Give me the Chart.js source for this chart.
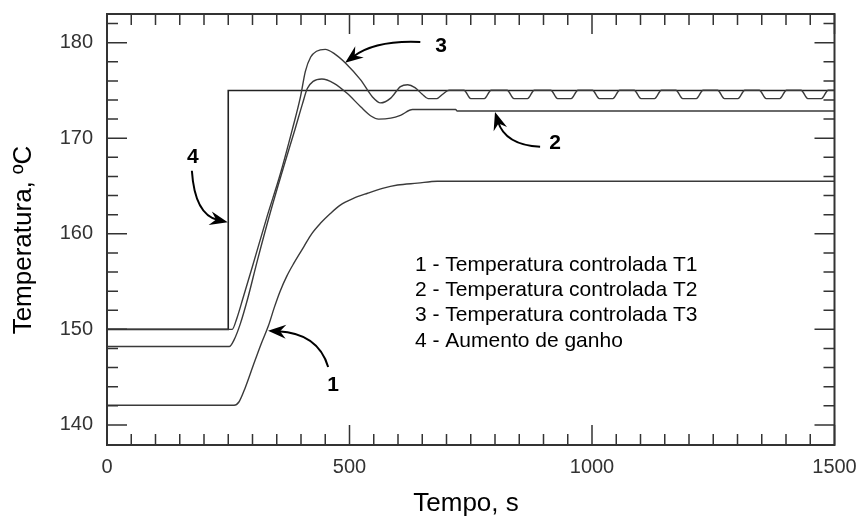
<!DOCTYPE html>
<html>
<head>
<meta charset="utf-8">
<script src="https://cdn.jsdelivr.net/npm/chart.js@4.4.1/dist/chart.umd.min.js"></script>
<style>
  html, body { margin: 0; padding: 0; background: #fff; }
  canvas { display: block; }
</style>
</head>
<body>
<canvas id="chart" width="857" height="521"></canvas>
<script>
var FONT = '"Liberation Sans", Arial, Helvetica, sans-serif';

// 1 - Temperatura controlada T1
var t1Time = [0, 262, 272, 285, 302, 318, 333, 345, 357, 371, 385, 406, 422, 440, 460, 481, 508, 537, 568, 599, 640, 681, 1500];
var t1Temp = [142.06, 142.06, 142.4, 143.9, 146.3, 148.5, 150.4, 152.3, 154.0, 155.6, 156.9, 158.66, 160.0, 161.1, 162.1, 163.0, 163.7, 164.24, 164.75, 165.1, 165.3, 165.5, 165.5];

// 2 - Temperatura controlada T2
var t2Time = [0, 252, 262, 275, 290, 310, 336, 363, 388, 403, 413, 425, 443, 468, 495, 523, 545, 560, 585, 605, 630, 719, 722, 1500];
var t2Temp = [148.2, 148.2, 148.9, 150.6, 153.2, 157.2, 162.1, 166.8, 171.0, 173.6, 175.2, 175.95, 176.2, 175.75, 174.7, 173.3, 172.3, 172.0, 172.1, 172.4, 173.0, 173.0, 172.85, 172.85];

// 3 - Temperatura controlada T3
var t3Time = [0, 258, 268, 280, 300, 330, 357, 382, 399, 409, 420, 432, 450, 470, 492, 523, 547, 564, 585, 605, 620, 635, 650, 662, 680, 692,
  705, 736, 750, 778, 792, 825, 839, 867, 881, 915, 929, 957, 971, 1001, 1015, 1043, 1057, 1087, 1101, 1129, 1143,
  1173, 1187, 1215, 1229, 1259, 1273, 1301, 1315, 1345, 1359, 1387, 1401, 1431, 1445, 1473, 1487, 1500];
var t3Temp = [150, 150, 151.2, 153.2, 156.6, 161.8, 166.2, 170.9, 174.35, 177.0, 178.5, 179.1, 179.3, 178.8, 177.85, 176.1, 174.35, 173.7, 174.2, 175.4, 175.6, 175.3, 174.6, 174.15, 174.15, 174.6,
  175.02, 175.02, 174.15, 174.15, 175.02, 175.02, 174.15, 174.15, 175.02, 175.02, 174.15, 174.15, 175.02, 175.02, 174.15, 174.15, 175.02, 175.02, 174.15, 174.15, 175.02,
  175.02, 174.15, 174.15, 175.02, 175.02, 174.15, 174.15, 175.02, 175.02, 174.15, 174.15, 175.02, 175.02, 174.15, 174.15, 175.02, 175.02];

// 4 - Aumento de ganho
var t4Time = [0, 250, 250, 1500];
var t4Temp = [150, 150, 175, 175];

var xTicks = [0, 500, 1000, 1500];
var yTicks = [140, 150, 160, 170, 180];

var legendLines = [
  '1 - Temperatura controlada T1',
  '2 - Temperatura controlada T2',
  '3 - Temperatura controlada T3',
  '4 - Aumento de ganho'
];

// numbered arrows, in data units: label, start, control, tip
var arrows = [
  { text: '4', label: [177, 168.0], start: [175, 166.6], ctrl: [181, 162.0], tip: [249, 161.2] },
  { text: '3', label: [689, 179.65], start: [646, 180.07], ctrl: [553, 180.28], tip: [491, 177.9] },
  { text: '2', label: [924, 169.5], start: [893, 169.1], ctrl: [821, 169.3], tip: [800, 172.75] },
  { text: '1', label: [466, 144.2], start: [456, 146.07], ctrl: [435, 149.6], tip: [332, 149.85] }
];

function toPoints(xs, ys) {
  return xs.map(function (x, i) { return { x: x, y: ys[i] }; });
}

var framePlugin = {
  id: 'frame',
  afterDraw: function (chart) {
    var ctx = chart.ctx, a = chart.chartArea;
    var xs = chart.scales.x, ys = chart.scales.y;
    ctx.save();

    // box
    ctx.strokeStyle = '#333';
    ctx.lineWidth = 2;
    ctx.strokeRect(a.left, a.top, a.right - a.left, a.bottom - a.top);

    // inner ticks on all sides
    ctx.lineWidth = 1.5;
    ctx.beginPath();
    var v, p, len;
    for (v = 0; v <= 1500; v += 50) {
      p = xs.getPixelForValue(v);
      len = xTicks.indexOf(v) >= 0 ? 20 : 11;
      ctx.moveTo(p, a.bottom); ctx.lineTo(p, a.bottom - len);
      ctx.moveTo(p, a.top); ctx.lineTo(p, a.top + len);
    }
    for (v = 140; v <= 182; v += 2) {
      p = ys.getPixelForValue(v);
      len = yTicks.indexOf(v) >= 0 ? 20 : 11;
      ctx.moveTo(a.left, p); ctx.lineTo(a.left + len, p);
      ctx.moveTo(a.right, p); ctx.lineTo(a.right - len, p);
    }
    ctx.stroke();

    // axis titles
    ctx.fillStyle = '#000';
    ctx.font = '26px ' + FONT;
    ctx.textAlign = 'center';
    ctx.textBaseline = 'middle';
    ctx.fillText('Tempo, s', 466, 504);
    ctx.save();
    ctx.translate(24, 240);
    ctx.rotate(-Math.PI / 2);
    ctx.fillText('Temperatura, \u00BAC', 0, 0);
    ctx.restore();

    // legend text
    ctx.font = '21px ' + FONT;
    ctx.textAlign = 'left';
    ctx.textBaseline = 'alphabetic';
    legendLines.forEach(function (s, i) {
      ctx.fillText(s, 415, 271 + i * 25.2);
    });

    // numbered arrows
    ctx.strokeStyle = '#000';
    ctx.lineWidth = 2;
    arrows.forEach(function (ar) {
      var sx = xs.getPixelForValue(ar.start[0]), sy = ys.getPixelForValue(ar.start[1]);
      var cx = xs.getPixelForValue(ar.ctrl[0]), cy = ys.getPixelForValue(ar.ctrl[1]);
      var tx = xs.getPixelForValue(ar.tip[0]), ty = ys.getPixelForValue(ar.tip[1]);
      var ang = Math.atan2(ty - cy, tx - cx);
      var c = Math.cos(ang), s = Math.sin(ang);
      ctx.beginPath();
      ctx.moveTo(sx, sy);
      ctx.quadraticCurveTo(cx, cy, tx - 10 * c, ty - 10 * s);
      ctx.stroke();
      ctx.beginPath();
      ctx.moveTo(tx, ty);
      ctx.lineTo(tx - 18 * c + 7 * s, ty - 18 * s - 7 * c);
      ctx.lineTo(tx - 12 * c, ty - 12 * s);
      ctx.lineTo(tx - 18 * c - 7 * s, ty - 18 * s + 7 * c);
      ctx.closePath();
      ctx.fill();

      ctx.font = 'bold 21px ' + FONT;
      ctx.textAlign = 'center';
      ctx.textBaseline = 'middle';
      ctx.fillText(ar.text, xs.getPixelForValue(ar.label[0]), ys.getPixelForValue(ar.label[1]));
    });

    ctx.restore();
  }
};

function lineSet(label, xs, ys, color, width, smooth) {
  return {
    label: label,
    data: toPoints(xs, ys),
    borderColor: color,
    borderWidth: width,
    pointRadius: 0,
    fill: false,
    cubicInterpolationMode: smooth ? 'monotone' : 'default',
    tension: 0
  };
}

function plainTick(value) { return String(value); }

new Chart(document.getElementById('chart').getContext('2d'), {
  type: 'line',
  data: {
    datasets: [
      lineSet('T1', t1Time, t1Temp, '#3a3a3a', 1.4, true),
      lineSet('T2', t2Time, t2Temp, '#3a3a3a', 1.4, true),
      lineSet('T3', t3Time, t3Temp, '#3a3a3a', 1.4, true),
      lineSet('Ganho', t4Time, t4Temp, '#222', 1.6, false)
    ]
  },
  options: {
    responsive: false,
    animation: false,
    devicePixelRatio: 1,
    layout: { padding: { top: 14, right: 22.5, left: 0, bottom: 0 } },
    plugins: { legend: { display: false }, tooltip: { enabled: false } },
    scales: {
      x: {
        type: 'linear',
        min: 0,
        max: 1500,
        grid: { display: false, drawTicks: false },
        border: { display: false },
        afterBuildTicks: function (scale) { scale.ticks = xTicks.map(function (v) { return { value: v }; }); },
        afterFit: function (scale) {
          scale.height = 76;
          scale.paddingLeft = 0; scale.paddingRight = 0;
        },
        ticks: { color: '#333', font: { family: FONT, size: 20 }, padding: 10, maxRotation: 0, callback: plainTick }
      },
      y: {
        type: 'linear',
        min: 137.9,
        max: 183.0,
        grid: { display: false, drawTicks: false },
        border: { display: false },
        afterBuildTicks: function (scale) { scale.ticks = yTicks.map(function (v) { return { value: v }; }); },
        afterFit: function (scale) {
          scale.width = 107;
          scale.paddingTop = 0; scale.paddingBottom = 0;
        },
        ticks: { color: '#333', font: { family: FONT, size: 20 }, padding: 14, callback: plainTick }
      }
    }
  },
  plugins: [framePlugin]
});
</script>
</body>
</html>
